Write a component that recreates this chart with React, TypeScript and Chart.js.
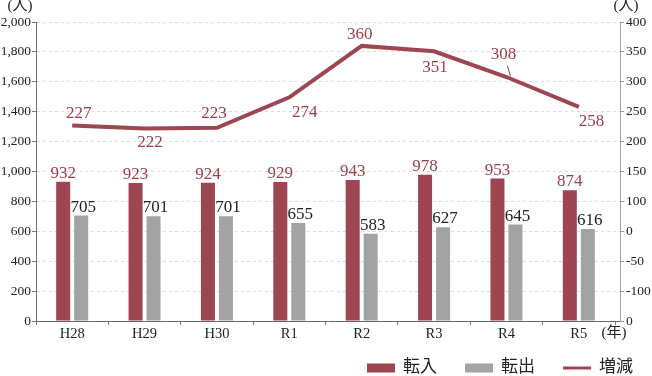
import React, { useEffect, useRef } from "react";
import { Chart, registerables } from "chart.js";

Chart.register(...registerables);

// ---- data ----
const categories = ["H28", "H29", "H30", "R1", "R2", "R3", "R4", "R5"];
const tennyu = [932, 923, 924, 929, 943, 978, 953, 874];
const tenshutsu = [705, 701, 701, 655, 583, 627, 645, 616];
const zogen = [227, 222, 223, 274, 360, 351, 308, 258];
const seriesNames = ["転入", "転出", "増減"];
// right-axis labels exactly as printed, bottom to top
const rightTickLabels = ["0", "-100", "-50", "0", "100", "150", "200", "250", "300", "350", "400"];
const unitLeft = "(人)";
const unitRight = "(人)";
const unitX = "(年)";

// ---- styles ----
const RED = "#9d4551";
const GRAY = "#a3a3a3";
const LABEL_RED = "#a03e4a";
const TEXT = "#222222";
const FONT = "'Liberation Serif', 'Noto Sans CJK JP', serif";
// label placement (dx, dy) relative to each line point
const lineLabelOffsets = [
  [6.5, -13], [5.5, 12.5], [-3, -16], [15.5, 13.5],
  [-2, -13], [1, 14.5], [-3, -24.5], [12.7, 12.6],
];
const leaderIndex = 6;

const xRangePlugin = {
  id: "xRange",
  afterLayout(chart: any) {
    const x = chart.scales.x;
    x._endPixel = x.right - 5;
    x._length = x._endPixel - x._startPixel;
  },
};

const labelsPlugin = {
  id: "dataLabels",
  afterDatasetsDraw(chart: any) {
    const ctx = chart.ctx;
    ctx.save();
    ctx.font = `17px ${FONT}`;
    ctx.textAlign = "center";
    ctx.textBaseline = "alphabetic";
    // bar labels
    [0, 1].forEach((di) => {
      const meta = chart.getDatasetMeta(di);
      const ds = chart.data.datasets[di];
      ctx.fillStyle = di === 0 ? LABEL_RED : TEXT;
      meta.data.forEach((el: any, i: number) => {
        ctx.fillText(String(ds.data[i]), el.x + (di === 1 ? 2 : 0), el.y - 4);
      });
    });
    // line labels
    const lm = chart.getDatasetMeta(2);
    const lds = chart.data.datasets[2];
    ctx.fillStyle = LABEL_RED;
    lm.data.forEach((el: any, i: number) => {
      const [dx, dy] = lineLabelOffsets[i];
      ctx.fillText(String(lds.data[i]), el.x + dx, el.y + dy + 6);
      if (i === leaderIndex) {
        ctx.strokeStyle = LABEL_RED;
        ctx.lineWidth = 1;
        ctx.beginPath();
        ctx.moveTo(el.x + 1, el.y - 11);
        ctx.lineTo(el.x + 4, el.y - 1);
        ctx.stroke();
      }
    });
    ctx.restore();
  },
};

const extrasPlugin = {
  id: "extras",
  afterDraw(chart: any) {
    const ctx = chart.ctx;
    ctx.save();
    ctx.fillStyle = TEXT;
    ctx.textBaseline = "middle";
    ctx.textAlign = "center";
    ctx.font = `15px ${FONT}`;
    ctx.fillText(unitLeft, 20, 6);
    ctx.fillText(unitRight, 626, 6);
    const xs = chart.scales.x;
    ctx.fillText(unitX, 614, xs.top + 12);

    // legend
    ctx.font = `17px ${FONT}`;
    ctx.textAlign = "left";
    const ly = 368;
    let lx = 367;
    chart.data.datasets.forEach((ds: any) => {
      if (ds.type === "line") {
        ctx.strokeStyle = ds.borderColor;
        ctx.lineWidth = 3;
        ctx.beginPath();
        ctx.moveTo(lx, ly);
        ctx.lineTo(lx + 28, ly);
        ctx.stroke();
      } else {
        ctx.fillStyle = ds.backgroundColor;
        ctx.fillRect(lx, ly - 4.5, 28, 9);
      }
      ctx.fillStyle = TEXT;
      ctx.fillText(ds.label, lx + 36, ly);
      lx += 36 + ctx.measureText(ds.label).width + 28;
    });
    ctx.restore();
  },
};

export default function App() {
  const ref = useRef<HTMLCanvasElement | null>(null);

  useEffect(() => {
    document.body.style.margin = "0";
    if (!ref.current) return;
    const tickFont = { family: FONT, size: 13.5 };
    const chart = new Chart(ref.current, {
      type: "bar",
      data: {
        labels: categories,
        datasets: [
          {
            type: "bar",
            label: seriesNames[0],
            data: tennyu,
            backgroundColor: RED,
            yAxisID: "y",
            order: 2,
            categoryPercentage: 0.497,
            barPercentage: 0.78,
          },
          {
            type: "bar",
            label: seriesNames[1],
            data: tenshutsu,
            backgroundColor: GRAY,
            yAxisID: "y",
            order: 2,
            categoryPercentage: 0.497,
            barPercentage: 0.78,
          },
          {
            type: "line",
            label: seriesNames[2],
            data: zogen,
            borderColor: RED,
            backgroundColor: RED,
            borderWidth: 4,
            pointRadius: 0,
            tension: 0,
            yAxisID: "y1",
            order: 1,
          },
        ] as any,
      },
      options: {
        animation: false,
        responsive: false,
        layout: { padding: { top: 22, bottom: 33, left: 0, right: 0 } },
        plugins: { legend: { display: false }, tooltip: { enabled: false } },
        scales: {
          x: {
            offset: true,
            grid: {
              display: true,
              drawOnChartArea: false,
              drawTicks: true,
              tickLength: 4,
              color: "#777777",
              tickColor: "#777777",
            },
            border: { display: true, color: "#6e6464", width: 1 },
            ticks: { font: { family: FONT, size: 14.5 }, color: TEXT, padding: 0, maxRotation: 0, autoSkip: false },
            afterFit: (s: any) => {
              s.height = 22;
            },
          },
          y: {
            position: "left",
            min: 0,
            max: 2000,
            ticks: {
              stepSize: 200,
              font: tickFont,
              color: TEXT,
              padding: 1,
              callback: (v: any) => Number(v).toLocaleString("en-US"),
            },
            grid: {
              color: "#dcdcdc",
              tickColor: "#777777",
              tickLength: 4,
              tickBorderDash: [],
            } as any,
            border: { display: true, color: "#7a6e6e", width: 1, dash: [3, 3] },
            afterFit: (s: any) => {
              s.width = 36;
            },
          },
          y1: {
            position: "right",
            min: -100,
            max: 400,
            ticks: {
              stepSize: 50,
              font: tickFont,
              color: TEXT,
              padding: 2,
              callback: (_v: any, i: number) => rightTickLabels[i],
            },
            grid: {
              drawOnChartArea: false,
              tickLength: 4,
              color: "#999999",
              tickColor: "#999999",
            },
            border: { display: true, color: "#a0a0a0", width: 1 },
            afterFit: (s: any) => {
              s.width = 32;
            },
          },
        },
      } as any,
      plugins: [xRangePlugin, labelsPlugin, extrasPlugin],
    });
    return () => chart.destroy();
  }, []);

  return (
    <div style={{ width: 652, height: 376 }}>
      <canvas ref={ref} width={652} height={376} style={{ display: "block" }} />
    </div>
  );
}
